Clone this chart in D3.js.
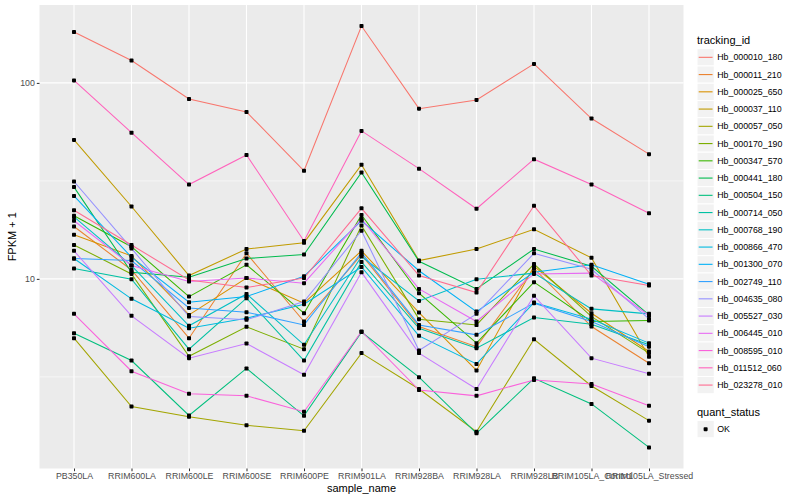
<!DOCTYPE html>
<html>
<head>
<meta charset="utf-8">
<script src="https://cdn.jsdelivr.net/npm/d3@7"></script>
<style>
  body { margin: 0; background: #fff; }
  text { font-family: "Liberation Sans", Arial, sans-serif; }
</style>
</head>
<body>
<div class="graph-goes-here"></div>
<script>
// sample names on the x axis
var samples = ["PB350LA", "RRIM600LA", "RRIM600LE", "RRIM600SE", "RRIM600PE", "RRIM901LA",
    "RRIM928BA", "RRIM928LA", "RRIM928LB", "RRIM105LA_Control", "RRIM105LA_Stressed"];

var trackingIds = ["Hb_000010_180", "Hb_000011_210", "Hb_000025_650", "Hb_000037_110", "Hb_000057_050",
    "Hb_000170_190", "Hb_000347_570", "Hb_000441_180", "Hb_000504_150", "Hb_000714_050",
    "Hb_000768_190", "Hb_000866_470", "Hb_001300_070", "Hb_002749_110", "Hb_004635_080",
    "Hb_005527_030", "Hb_006445_010", "Hb_008595_010", "Hb_011512_060", "Hb_023278_010"];

// default ggplot hue palette for 20 levels
var hueColors = ["#F8766D", "#EA8331", "#D89000", "#C09B00", "#A3A500", "#7CAE00", "#39B600", "#00BB4E",
    "#00BF7D", "#00C1A3", "#00BFC4", "#00BAE0", "#00B0F6", "#35A2FF", "#9590FF", "#C77CFF",
    "#E76BF3", "#FA62DB", "#FF62BC", "#FF6C91"];

// FPKM + 1, one value per sample
var Hb_000010_180 = [182, 130, 82.8, 71.1, 35.6, 195, 73.9, 81.9, 125, 65.8, 43.3];
var Hb_000011_210 = [18.5, 11.1, 4.98, 13.5, 6.06, 13.3, 5.71, 4.51, 11.3, 5.71, 3.71];
var Hb_000025_650 = [16.8, 13.1, 6.55, 10.1, 7.52, 13.9, 6.73, 3.41, 11.6, 6.68, 4.26];
var Hb_000037_110 = [51.2, 23.4, 10.4, 14.2, 15.3, 38.2, 12.4, 14.2, 17.9, 12.8, 4.0];
var Hb_000057_050 = [4.98, 2.23, 1.98, 1.79, 1.68, 4.18, 2.74, 1.66, 4.92, 2.84, 1.89];
var Hb_000170_190 = [14.9, 10.6, 4.03, 5.69, 4.38, 18.7, 6.23, 5.82, 11.9, 6.42, 4.18];
var Hb_000347_570 = [21.0, 14.6, 8.12, 11.8, 6.68, 21.2, 8.45, 4.70, 9.62, 6.06, 6.13];
var Hb_000441_180 = [29.4, 10.8, 10.2, 12.7, 13.3, 34.9, 12.3, 8.89, 14.2, 11.6, 6.55];
var Hb_000504_150 = [5.28, 3.83, 2.01, 3.49, 2.00, 5.35, 3.15, 1.63, 3.11, 2.30, 1.38];
var Hb_000714_050 = [11.3, 9.96, 4.38, 7.97, 3.83, 12.2, 5.60, 4.43, 6.35, 5.87, 4.61];
var Hb_000768_190 = [20.7, 11.7, 5.76, 8.38, 4.61, 13.0, 7.72, 9.96, 10.7, 7.03, 6.63];
var Hb_000866_470 = [12.7, 7.91, 5.60, 6.30, 7.43, 11.5, 5.12, 3.68, 7.57, 6.23, 4.70];
var Hb_001300_070 = [26.5, 12.9, 7.60, 8.12, 10.3, 19.8, 11.0, 6.81, 10.8, 11.8, 9.40];
var Hb_002749_110 = [12.7, 12.4, 7.11, 6.76, 5.82, 13.6, 5.82, 5.18, 7.52, 6.06, 4.51];
var Hb_004635_080 = [31.4, 14.3, 6.42, 6.18, 7.66, 17.6, 4.31, 6.63, 13.5, 11.2, 6.25];
var Hb_005527_030 = [13.9, 6.48, 3.94, 4.68, 3.24, 10.8, 4.18, 2.74, 8.19, 3.94, 3.28];
var Hb_006445_010 = [19.8, 11.7, 9.69, 10.1, 9.51, 20.2, 8.89, 6.06, 10.6, 10.7, 6.50];
var Hb_008595_010 = [6.63, 3.38, 2.59, 2.53, 2.10, 5.39, 2.71, 2.53, 3.05, 2.91, 2.25];
var Hb_011512_060 = [103, 55.7, 30.3, 42.9, 15.6, 56.9, 36.5, 22.8, 40.8, 30.3, 21.6];
var Hb_023278_010 = [22.4, 14.9, 9.88, 9.03, 10.1, 22.9, 10.4, 8.51, 23.6, 10.4, 9.25];

var seriesValues = [Hb_000010_180, Hb_000011_210, Hb_000025_650, Hb_000037_110, Hb_000057_050,
    Hb_000170_190, Hb_000347_570, Hb_000441_180, Hb_000504_150, Hb_000714_050,
    Hb_000768_190, Hb_000866_470, Hb_001300_070, Hb_002749_110, Hb_004635_080,
    Hb_005527_030, Hb_006445_010, Hb_008595_010, Hb_011512_060, Hb_023278_010];

var yBreaks = [10, 100];
var yMinorBreaks = [3.162, 31.62];

var width = 800, height = 500;
var panel = { left: 39.5, right: 683.5, top: 5, bottom: 468.5 };

var svg = d3.select(".graph-goes-here")
    .append("svg")
    .attr("width", width)
    .attr("height", height);

svg.append("rect").attr("width", width).attr("height", height).attr("fill", "white");

var series = seriesValues.map((vals, i) => ({
    id: trackingIds[i],
    color: hueColors[i],
    points: vals.map((v, j) => ({ sample: samples[j], value: v }))
}));

// log scale with the usual 5% expansion
var allValues = [].concat(...seriesValues);
var logExtent = d3.extent(allValues).map(Math.log10);
var pad = (logExtent[1] - logExtent[0]) * 0.05;

var xScale = d3.scalePoint().domain(samples).range([panel.left, panel.right]).padding(0.6);
var yScale = d3.scaleLog()
    .domain([Math.pow(10, logExtent[0] - pad), Math.pow(10, logExtent[1] + pad)])
    .range([panel.bottom, panel.top]);

// panel background + grid
svg.append("rect")
    .attr("x", panel.left).attr("y", panel.top)
    .attr("width", panel.right - panel.left).attr("height", panel.bottom - panel.top)
    .attr("fill", "#EBEBEB");

svg.append("g").selectAll("line").data(yMinorBreaks).join("line")
    .attr("x1", panel.left).attr("x2", panel.right)
    .attr("y1", d => yScale(d)).attr("y2", d => yScale(d))
    .attr("stroke", "white").attr("stroke-width", 0.55);

svg.append("g").selectAll("line").data(yBreaks).join("line")
    .attr("x1", panel.left).attr("x2", panel.right)
    .attr("y1", d => yScale(d)).attr("y2", d => yScale(d))
    .attr("stroke", "white").attr("stroke-width", 1.1);

svg.append("g").selectAll("line").data(samples).join("line")
    .attr("x1", d => xScale(d)).attr("x2", d => xScale(d))
    .attr("y1", panel.top).attr("y2", panel.bottom)
    .attr("stroke", "white").attr("stroke-width", 1.1);

// lines
var line = d3.line().x(d => xScale(d.sample)).y(d => yScale(d.value));
svg.append("g").selectAll("path").data(series).join("path")
    .attr("fill", "none")
    .attr("stroke", d => d.color)
    .attr("stroke-width", 1.05)
    .attr("d", d => line(d.points));

// points
svg.append("g").selectAll("rect")
    .data(series.flatMap(s => s.points))
    .join("rect")
    .attr("x", d => xScale(d.sample) - 2)
    .attr("y", d => yScale(d.value) - 2)
    .attr("width", 4).attr("height", 4)
    .attr("rx", 0.8)
    .attr("fill", "black");

// axes
var yAxis = svg.append("g")
    .attr("transform", "translate(" + panel.left + ",0)")
    .call(d3.axisLeft(yScale).tickValues(yBreaks).tickFormat(d3.format("d")).tickSize(2.7).tickPadding(2));
var xAxis = svg.append("g")
    .attr("transform", "translate(0," + panel.bottom + ")")
    .call(d3.axisBottom(xScale).tickSize(2.7).tickPadding(2));

[xAxis, yAxis].forEach(ax => {
    ax.select(".domain").remove();
    ax.selectAll(".tick line").attr("stroke", "#333333").attr("stroke-width", 1.05);
    ax.selectAll(".tick text").attr("fill", "#4D4D4D").style("font-size", "8.8px")
        .style("font-family", "'Liberation Sans', Arial, sans-serif");
});

svg.append("text")
    .attr("x", (panel.left + panel.right) / 2).attr("y", 492)
    .attr("text-anchor", "middle")
    .style("font-size", "11px")
    .text("sample_name");

svg.append("text")
    .attr("transform", "translate(16," + ((panel.top + panel.bottom) / 2) + ") rotate(-90)")
    .attr("text-anchor", "middle")
    .style("font-size", "11px")
    .text("FPKM + 1");

// legend: tracking_id
var legendX = 697, keySize = 17.25, keyTop = 48.7;
svg.append("text").attr("x", legendX).attr("y", 43.5)
    .style("font-size", "11px").text("tracking_id");

var keys = svg.append("g").selectAll("g").data(series).join("g")
    .attr("transform", (d, i) => "translate(" + legendX + "," + (keyTop + i * keySize) + ")");
keys.append("rect").attr("width", keySize).attr("height", keySize)
    .attr("fill", "#F2F2F2").attr("stroke", "white").attr("stroke-width", 1);
keys.append("line")
    .attr("x1", 1.7).attr("x2", keySize - 1.7)
    .attr("y1", keySize / 2).attr("y2", keySize / 2)
    .attr("stroke", d => d.color).attr("stroke-width", 1.1);
keys.append("text")
    .attr("x", keySize + 3).attr("y", keySize / 2 + 3.1)
    .style("font-size", "8.8px")
    .text(d => d.id);

// legend: quant_status
svg.append("text").attr("x", legendX).attr("y", 415.5)
    .style("font-size", "11px").text("quant_status");
var okKey = svg.append("g").attr("transform", "translate(" + legendX + ",420.5)");
okKey.append("rect").attr("width", keySize).attr("height", keySize)
    .attr("fill", "#F2F2F2").attr("stroke", "white");
okKey.append("rect").attr("x", keySize / 2 - 2).attr("y", keySize / 2 - 2)
    .attr("width", 4).attr("height", 4).attr("rx", 0.8).attr("fill", "black");
okKey.append("text").attr("x", keySize + 3).attr("y", keySize / 2 + 3.1)
    .style("font-size", "8.8px").text("OK");
</script>
</body>
</html>
